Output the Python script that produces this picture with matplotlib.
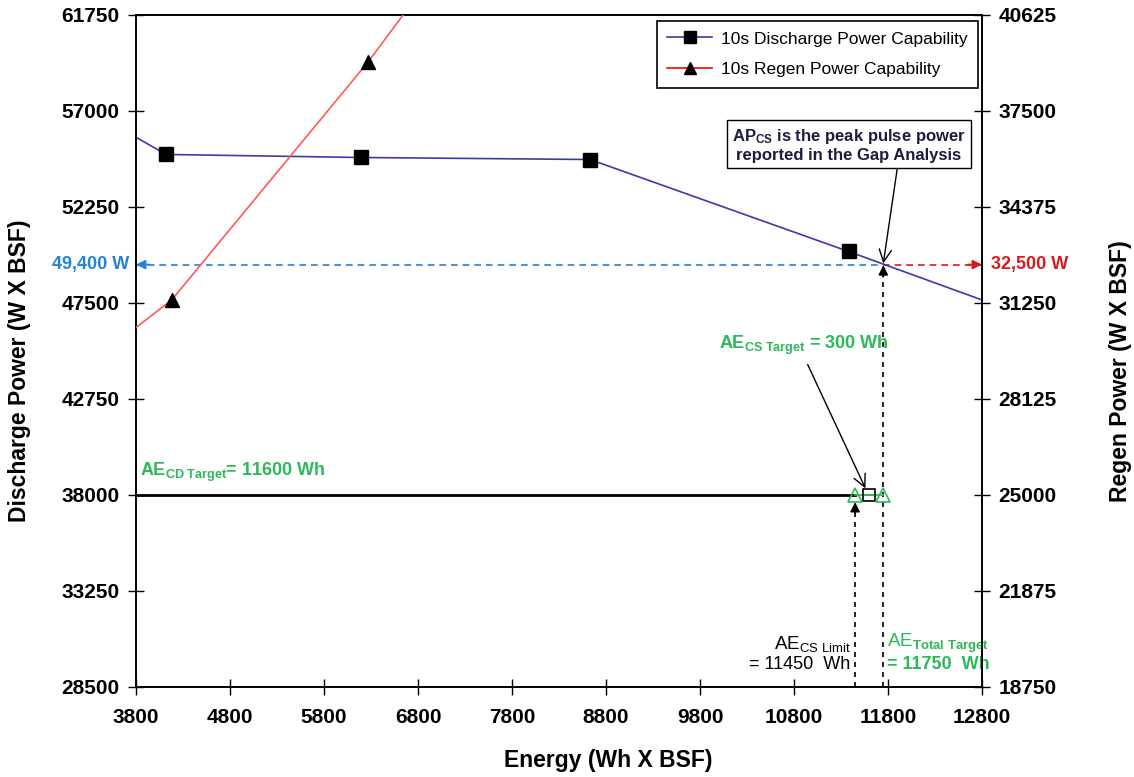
import matplotlib
matplotlib.use("Agg")
import matplotlib.pyplot as plt
from matplotlib.lines import Line2D

plt.rcParams['font.family'] = 'Liberation Sans'
plt.rcParams['mathtext.fontset'] = 'custom'
plt.rcParams['mathtext.rm'] = 'Liberation Sans'
plt.rcParams['mathtext.it'] = 'Liberation Sans'
plt.rcParams['mathtext.bf'] = 'Liberation Sans:bold'

# 10s discharge power capability (left axis); ends of the line run to the plot edges
dis_energy = [3800, 4120, 6190, 8630, 11380, 12800]
dis_power = [55700, 54850, 54700, 54600, 50050, 47650]
dis_markers = [1, 2, 3, 4]

# 10s regen power capability (right axis)
regen_energy = [3800, 4180, 6270, 7000]
regen_power = [30450, 31350, 39100, 42100]
regen_markers = [1, 2]

# targets
target_power = 38000
ae_cs_limit = 11450
ae_cd_target = 11600
ae_total_target = 11750
ap_cs_discharge = 49400
ap_cs_regen = 32500

x_ticks = list(range(3800, 12801, 1000))
left_ticks = [28500 + 4750 * i for i in range(8)]
right_ticks = [18750 + 3125 * i for i in range(8)]

GREEN = '#2db85a'
BLUE_DASH = '#2383d6'
RED_DASH = '#d41c1c'
NAVY = '#3a3aa8'

fig = plt.figure(figsize=(11.34, 7.77), dpi=100)
ax = fig.add_axes([136 / 1134, 1 - 687 / 777, 846 / 1134, 672 / 777])
ax2 = ax.twinx()

ax.set_xlim(3800, 12800)
ax.set_ylim(28500, 61750)
ax2.set_ylim(18750, 40625)
ax.set_xticks(x_ticks)
ax.set_yticks(left_ticks)
ax2.set_yticks(right_ticks)

for a in (ax, ax2):
    a.tick_params(direction='inout', length=12, width=1, labelsize=15, pad=6)
    for lab in a.get_xticklabels() + a.get_yticklabels():
        lab.set_fontweight('bold')
    for s in a.spines.values():
        s.set_linewidth(1.2)
ax.tick_params(axis='x', pad=9)

# discharge series
ax.plot(dis_energy, dis_power, '-', color=NAVY, lw=1.2, zorder=3)
ax.plot([dis_energy[i] for i in dis_markers], [dis_power[i] for i in dis_markers],
        's', color='black', ms=10, zorder=4)

# regen series
ax2.plot(regen_energy, regen_power, '-', color='#ff5a5a', lw=1.2, zorder=3)
ax2.plot([regen_energy[i] for i in regen_markers], [regen_power[i] for i in regen_markers],
         '^', color='black', ms=10, zorder=4)

# CD target line and CS window
ax.plot([3800, ae_cs_limit], [target_power, target_power], color='black', lw=2, zorder=3)
ax.plot([ae_cs_limit, ae_total_target], [target_power, target_power], color=GREEN, lw=1.2,
        zorder=3)
ax.plot([ae_cs_limit, ae_total_target], [target_power, target_power], '^', ms=10,
        mfc='none', mec=GREEN, mew=1.2, zorder=5)
ax.plot([ae_cd_target], [target_power], 's', ms=9, mfc='white', mec='black', mew=1.2,
        zorder=4)
ax.plot([ae_cd_target - 40, ae_cd_target + 40], [target_power, target_power], color=GREEN,
        lw=1.5, zorder=6)

# dashed reference lines to the power axes
ax.plot([3800, ae_total_target], [ap_cs_discharge, ap_cs_discharge], color=BLUE_DASH,
        lw=1.2, ls=(0, (4, 3)), zorder=2)
ax.annotate('', xy=(3800, ap_cs_discharge), xytext=(3950, ap_cs_discharge),
            arrowprops=dict(arrowstyle='-|>', color=BLUE_DASH, lw=1.2, mutation_scale=14,
                            shrinkA=0, shrinkB=0), annotation_clip=False)
ax.plot([ae_total_target, 12800], [ap_cs_discharge, ap_cs_discharge], color=RED_DASH,
        lw=1.2, ls=(0, (4, 3)), zorder=2)
ax.annotate('', xy=(12800, ap_cs_discharge), xytext=(12650, ap_cs_discharge),
            arrowprops=dict(arrowstyle='-|>', color=RED_DASH, lw=1.2, mutation_scale=14,
                            shrinkA=0, shrinkB=0), annotation_clip=False)

# vertical energy markers
ax.plot([ae_total_target, ae_total_target], [28500, ap_cs_discharge - 300], color='black',
        lw=1.2, ls=(0, (3, 3)), zorder=2)
ax.annotate('', xy=(ae_total_target, ap_cs_discharge - 30),
            xytext=(ae_total_target, ap_cs_discharge - 600),
            arrowprops=dict(arrowstyle='-|>', color='black', lw=1.2, mutation_scale=14,
                            shrinkA=0, shrinkB=0))
ax.plot([ae_cs_limit, ae_cs_limit], [28500, 37500], color='black', lw=1.2,
        ls=(0, (3, 3)), zorder=2)
ax.annotate('', xy=(ae_cs_limit, 37650), xytext=(ae_cs_limit, 37100),
            arrowprops=dict(arrowstyle='-|>', color='black', lw=1.2, mutation_scale=14,
                            shrinkA=0, shrinkB=0))

# value labels on the power axes
ax.text(3800 - 70, ap_cs_discharge, '49,400 W', color=BLUE_DASH, fontsize=13,
        fontweight='bold', ha='right', va='center')
ax.text(12800 + 100, ap_cs_discharge, '32,500 W', color=RED_DASH, fontsize=13,
        fontweight='bold', ha='left', va='center')

# annotations
ax.annotate('AP$_{\\mathbf{CS}}$ is the peak pulse power\nreported in the Gap Analysis',
            xy=(ae_total_target, ap_cs_discharge + 60), xytext=(11385, 55318),
            ha='center', va='center', fontsize=12, fontweight='bold', color='#1c1c40',
            linespacing=1.15,
            bbox=dict(boxstyle='square,pad=0.3', fc='white', ec='black', lw=1),
            arrowprops=dict(arrowstyle='->', color='black', lw=1, mutation_scale=22,
                            relpos=(0.71, 0), shrinkA=0, shrinkB=0), zorder=7)
ax.annotate('AE$_{\\mathbf{CS\\ Target}}$ = 300 Wh', xy=(11560, 38330),
            xytext=(10906, 45420), ha='center', va='center', fontsize=13,
            fontweight='bold', color=GREEN,
            arrowprops=dict(arrowstyle='->', color='black', lw=1, mutation_scale=22,
                            relpos=(0.5, 0), shrinkA=4, shrinkB=0))
ax.text(3840, 39100, 'AE$_{\\mathbf{CD\\ Target}}$= 11600 Wh', color=GREEN, fontsize=13,
        fontweight='bold', ha='left', va='center')
ax.text(11400, 30650, 'AE$_{\\mathrm{CS\\ Limit}}$', color='black', fontsize=13.5,
        ha='right', va='center')
ax.text(11400, 29600, '= 11450  Wh', color='black', fontsize=13, ha='right', va='center')
ax.text(11790, 30650, 'AE$_{\\mathbf{Total\\ Target}}$', color=GREEN, fontsize=13.5,
        ha='left', va='center')
ax.text(11790, 29600, '= 11750  Wh', color=GREEN, fontsize=13, fontweight='bold',
        ha='left', va='center')

# legend
handles = [
    Line2D([], [], color=NAVY, lw=1.2, marker='s', ms=8, mfc='black', mec='black'),
    Line2D([], [], color='red', lw=1.2, marker='^', ms=8, mfc='black', mec='black'),
]
leg = ax2.legend(handles, ['10s Discharge Power Capability', '10s Regen Power Capability'],
                 loc='upper right', bbox_to_anchor=(978 / 1134, 1 - 21 / 777),
                 bbox_transform=fig.transFigure, fontsize=12.5, fancybox=False,
                 edgecolor='black', framealpha=1, labelspacing=0.9, handlelength=2.6,
                 handletextpad=0.5, borderpad=0.6, borderaxespad=0)
leg.get_frame().set_linewidth(1.2)

# axis titles
fig.text(20 / 1134, 1 - 371 / 777, 'Discharge Power (W X BSF)', rotation=90,
         ha='center', va='center', fontsize=16.5, fontweight='bold')
fig.text(1120 / 1134, 1 - 371 / 777, 'Regen Power (W X BSF)', rotation=90,
         ha='center', va='center', fontsize=16.5, fontweight='bold')
fig.text(608 / 1134, 1 - 760 / 777, 'Energy (Wh X BSF)', ha='center', va='center',
         fontsize=16.5, fontweight='bold')

fig.savefig('out.png', dpi=100)
